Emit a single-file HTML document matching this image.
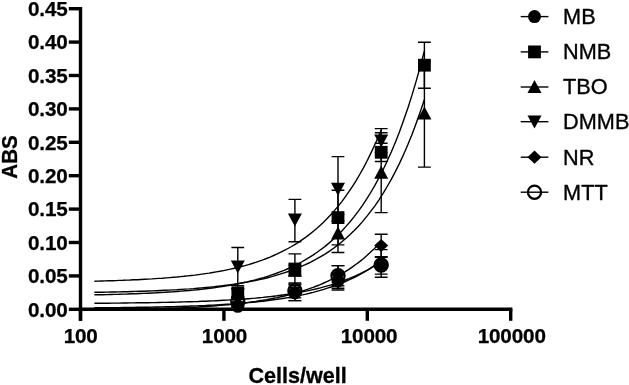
<!DOCTYPE html>
<html><head><meta charset="utf-8"><title>Chart</title>
<style>
html,body{margin:0;padding:0;background:#fff}
svg{display:block}
text{font-family:"Liberation Sans",sans-serif;fill:#000}
.tk{font-size:20.7px;font-weight:bold;stroke:#000;stroke-width:0.25px;letter-spacing:-0.15px}
.ax{font-size:21.6px;font-weight:bold;stroke:#000;stroke-width:0.3px}
.lg{font-size:21.7px;stroke:#000;stroke-width:0.35px}
</style></head><body>
<svg width="629" height="385" viewBox="0 0 629 385">
<rect width="629" height="385" fill="#fff"/>
<path d="M80.5 7V320.8M78.8 309.3H512.4" stroke="#000" stroke-width="3.4" fill="none"/>
<path d="M68.8 309.3H80.5" stroke="#000" stroke-width="3.4"/>
<text x="67.7" y="316.5" text-anchor="end" class="tk">0.00</text>
<path d="M68.8 275.9H80.5" stroke="#000" stroke-width="3.4"/>
<text x="67.7" y="283.1" text-anchor="end" class="tk">0.05</text>
<path d="M68.8 242.5H80.5" stroke="#000" stroke-width="3.4"/>
<text x="67.7" y="249.7" text-anchor="end" class="tk">0.10</text>
<path d="M68.8 209.1H80.5" stroke="#000" stroke-width="3.4"/>
<text x="67.7" y="216.3" text-anchor="end" class="tk">0.15</text>
<path d="M68.8 175.7H80.5" stroke="#000" stroke-width="3.4"/>
<text x="67.7" y="182.9" text-anchor="end" class="tk">0.20</text>
<path d="M68.8 142.3H80.5" stroke="#000" stroke-width="3.4"/>
<text x="67.7" y="149.5" text-anchor="end" class="tk">0.25</text>
<path d="M68.8 108.9H80.5" stroke="#000" stroke-width="3.4"/>
<text x="67.7" y="116.1" text-anchor="end" class="tk">0.30</text>
<path d="M68.8 75.5H80.5" stroke="#000" stroke-width="3.4"/>
<text x="67.7" y="82.7" text-anchor="end" class="tk">0.35</text>
<path d="M68.8 42.1H80.5" stroke="#000" stroke-width="3.4"/>
<text x="67.7" y="49.3" text-anchor="end" class="tk">0.40</text>
<path d="M68.8 8.7H80.5" stroke="#000" stroke-width="3.4"/>
<text x="67.7" y="15.9" text-anchor="end" class="tk">0.45</text>
<path d="M80.5 309.3V320.8" stroke="#000" stroke-width="3.4"/>
<text x="80.7" y="342.6" text-anchor="middle" class="tk">100</text>
<path d="M223.9 309.3V320.8" stroke="#000" stroke-width="3.4"/>
<text x="224.5" y="342.6" text-anchor="middle" class="tk">1000</text>
<path d="M367.3 309.3V320.8" stroke="#000" stroke-width="3.4"/>
<text x="369.1" y="342.6" text-anchor="middle" class="tk">10000</text>
<path d="M510.7 309.3V320.8" stroke="#000" stroke-width="3.4"/>
<text x="511.7" y="342.6" text-anchor="middle" class="tk">100000</text>
<text x="297.6" y="383" text-anchor="middle" class="ax">Cells/well</text>
<text transform="translate(17 157) rotate(-90)" text-anchor="middle" textLength="43.5" lengthAdjust="spacingAndGlyphs" class="ax">ABS</text>
<polyline points="94.4,307.8 98.0,307.8 101.6,307.8 105.2,307.7 108.7,307.7 112.3,307.7 115.9,307.6 119.5,307.6 123.1,307.5 126.7,307.5 130.2,307.5 133.8,307.4 137.4,307.3 141.0,307.3 144.6,307.2 148.2,307.2 151.8,307.1 155.3,307.0 158.9,307.0 162.5,306.9 166.1,306.8 169.7,306.7 173.3,306.6 176.9,306.5 180.4,306.4 184.0,306.3 187.6,306.2 191.2,306.0 194.8,305.9 198.4,305.8 201.9,305.6 205.5,305.5 209.1,305.3 212.7,305.1 216.3,304.9 219.9,304.7 223.5,304.5 227.0,304.3 230.6,304.1 234.2,303.8 237.8,303.5 241.4,303.3 245.0,303.0 248.6,302.6 252.1,302.3 255.7,302.0 259.3,301.6 262.9,301.2 266.5,300.8 270.1,300.3 273.6,299.8 277.2,299.3 280.8,298.8 284.4,298.2 288.0,297.6 291.6,297.0 295.2,296.3 298.7,295.6 302.3,294.9 305.9,294.1 309.5,293.2 313.1,292.4 316.7,291.4 320.3,290.4 323.8,289.4 327.4,288.2 331.0,287.0 334.6,285.8 338.2,284.4 341.8,283.0 345.3,281.5 348.9,279.9 352.5,278.3 356.1,276.5 359.7,274.6 363.3,272.6 366.9,270.5 370.4,268.3 374.0,265.9 377.6,263.4 381.2,260.7" fill="none" stroke="#000" stroke-width="1.4"/>
<polyline points="94.4,294.8 98.5,294.8 102.6,294.7 106.8,294.6 110.9,294.5 115.0,294.4 119.1,294.3 123.3,294.1 127.4,294.0 131.5,293.8 135.6,293.7 139.8,293.5 143.9,293.4 148.0,293.2 152.1,293.0 156.3,292.8 160.4,292.5 164.5,292.3 168.6,292.0 172.8,291.8 176.9,291.5 181.0,291.1 185.1,290.8 189.3,290.5 193.4,290.1 197.5,289.7 201.6,289.2 205.8,288.7 209.9,288.2 214.0,287.7 218.1,287.1 222.3,286.5 226.4,285.9 230.5,285.2 234.6,284.4 238.8,283.6 242.9,282.8 247.0,281.9 251.1,280.9 255.3,279.9 259.4,278.7 263.5,277.6 267.6,276.3 271.8,274.9 275.9,273.5 280.0,271.9 284.1,270.3 288.3,268.5 292.4,266.6 296.5,264.6 300.6,262.5 304.8,260.2 308.9,257.7 313.0,255.1 317.1,252.3 321.2,249.3 325.4,246.1 329.5,242.6 333.6,239.0 337.7,235.1 341.9,230.9 346.0,226.4 350.1,221.7 354.2,216.6 358.4,211.1 362.5,205.3 366.6,199.1 370.7,192.5 374.9,185.4 379.0,177.8 383.1,169.7 387.2,161.0 391.4,151.8 395.5,141.9 399.6,131.4 403.7,120.1 407.9,108.0 412.0,95.1 416.1,81.4 420.2,66.7 424.4,51.0" fill="none" stroke="#000" stroke-width="1.4"/>
<polyline points="94.4,292.3 98.5,292.3 102.6,292.2 106.8,292.1 110.9,292.0 115.0,292.0 119.1,291.9 123.3,291.8 127.4,291.7 131.5,291.5 135.6,291.4 139.8,291.3 143.9,291.2 148.0,291.0 152.1,290.9 156.3,290.7 160.4,290.5 164.5,290.3 168.6,290.1 172.8,289.9 176.9,289.7 181.0,289.4 185.1,289.1 189.3,288.9 193.4,288.6 197.5,288.2 201.6,287.9 205.8,287.5 209.9,287.1 214.0,286.7 218.1,286.2 222.3,285.8 226.4,285.2 230.5,284.7 234.6,284.1 238.8,283.5 242.9,282.8 247.0,282.1 251.1,281.3 255.3,280.5 259.4,279.6 263.5,278.7 267.6,277.7 271.8,276.6 275.9,275.4 280.0,274.2 284.1,272.9 288.3,271.5 292.4,270.0 296.5,268.4 300.6,266.7 304.8,264.9 308.9,263.0 313.0,260.9 317.1,258.7 321.2,256.3 325.4,253.8 329.5,251.1 333.6,248.2 337.7,245.1 341.9,241.8 346.0,238.3 350.1,234.5 354.2,230.5 358.4,226.2 362.5,221.6 366.6,216.6 370.7,211.4 374.9,205.8 379.0,199.8 383.1,193.4 387.2,186.5 391.4,179.2 395.5,171.4 399.6,163.1 403.7,154.2 407.9,144.6 412.0,134.5 416.1,123.6 420.2,112.0 424.4,99.5" fill="none" stroke="#000" stroke-width="1.4"/>
<polyline points="94.4,281.2 98.0,281.1 101.6,281.0 105.2,280.9 108.7,280.8 112.3,280.7 115.9,280.6 119.5,280.4 123.1,280.3 126.7,280.1 130.2,280.0 133.8,279.8 137.4,279.7 141.0,279.5 144.6,279.3 148.2,279.1 151.8,278.9 155.3,278.6 158.9,278.4 162.5,278.2 166.1,277.9 169.7,277.6 173.3,277.3 176.9,277.0 180.4,276.6 184.0,276.3 187.6,275.9 191.2,275.5 194.8,275.1 198.4,274.6 201.9,274.1 205.5,273.6 209.1,273.1 212.7,272.5 216.3,271.9 219.9,271.3 223.5,270.6 227.0,269.9 230.6,269.1 234.2,268.3 237.8,267.4 241.4,266.5 245.0,265.6 248.6,264.6 252.1,263.5 255.7,262.3 259.3,261.1 262.9,259.9 266.5,258.5 270.1,257.1 273.6,255.5 277.2,253.9 280.8,252.2 284.4,250.4 288.0,248.5 291.6,246.5 295.2,244.3 298.7,242.1 302.3,239.6 305.9,237.1 309.5,234.4 313.1,231.5 316.7,228.5 320.3,225.3 323.8,221.9 327.4,218.3 331.0,214.5 334.6,210.4 338.2,206.1 341.8,201.6 345.3,196.8 348.9,191.7 352.5,186.3 356.1,180.6 359.7,174.5 363.3,168.1 366.9,161.3 370.4,154.1 374.0,146.5 377.6,138.5 381.2,129.9" fill="none" stroke="#000" stroke-width="1.4"/>
<polyline points="94.4,309.9 98.0,309.9 101.6,309.9 105.2,309.8 108.7,309.8 112.3,309.7 115.9,309.7 119.5,309.6 123.1,309.5 126.7,309.5 130.2,309.4 133.8,309.3 137.4,309.3 141.0,309.2 144.6,309.1 148.2,309.0 151.8,308.9 155.3,308.8 158.9,308.7 162.5,308.6 166.1,308.4 169.7,308.3 173.3,308.2 176.9,308.0 180.4,307.9 184.0,307.7 187.6,307.5 191.2,307.4 194.8,307.2 198.4,307.0 201.9,306.7 205.5,306.5 209.1,306.3 212.7,306.0 216.3,305.7 219.9,305.4 223.5,305.1 227.0,304.8 230.6,304.5 234.2,304.1 237.8,303.7 241.4,303.3 245.0,302.9 248.6,302.4 252.1,301.9 255.7,301.4 259.3,300.8 262.9,300.3 266.5,299.7 270.1,299.0 273.6,298.3 277.2,297.6 280.8,296.8 284.4,296.0 288.0,295.1 291.6,294.2 295.2,293.2 298.7,292.2 302.3,291.1 305.9,289.9 309.5,288.7 313.1,287.4 316.7,286.0 320.3,284.6 323.8,283.0 327.4,281.4 331.0,279.7 334.6,277.8 338.2,275.9 341.8,273.8 345.3,271.7 348.9,269.4 352.5,266.9 356.1,264.3 359.7,261.6 363.3,258.7 366.9,255.6 370.4,252.3 374.0,248.9 377.6,245.2 381.2,241.3" fill="none" stroke="#000" stroke-width="1.4"/>
<polyline points="94.4,303.3 98.0,303.2 101.6,303.2 105.2,303.2 108.7,303.2 112.3,303.1 115.9,303.1 119.5,303.1 123.1,303.0 126.7,303.0 130.2,302.9 133.8,302.9 137.4,302.8 141.0,302.8 144.6,302.7 148.2,302.7 151.8,302.6 155.3,302.6 158.9,302.5 162.5,302.4 166.1,302.4 169.7,302.3 173.3,302.2 176.9,302.1 180.4,302.0 184.0,301.9 187.6,301.8 191.2,301.7 194.8,301.6 198.4,301.5 201.9,301.3 205.5,301.2 209.1,301.0 212.7,300.9 216.3,300.7 219.9,300.5 223.5,300.3 227.0,300.1 230.6,299.9 234.2,299.7 237.8,299.5 241.4,299.2 245.0,299.0 248.6,298.7 252.1,298.4 255.7,298.1 259.3,297.7 262.9,297.4 266.5,297.0 270.1,296.6 273.6,296.2 277.2,295.8 280.8,295.3 284.4,294.8 288.0,294.3 291.6,293.7 295.2,293.1 298.7,292.5 302.3,291.8 305.9,291.1 309.5,290.4 313.1,289.6 316.7,288.8 320.3,287.9 323.8,286.9 327.4,285.9 331.0,284.9 334.6,283.8 338.2,282.6 341.8,281.3 345.3,280.0 348.9,278.6 352.5,277.1 356.1,275.6 359.7,273.9 363.3,272.1 366.9,270.3 370.4,268.3 374.0,266.2 377.6,264.0 381.2,261.6" fill="none" stroke="#000" stroke-width="1.4"/>
<path d="M237.8 304.3V308.3M231.4 304.3h12.8M231.4 308.3h12.8" stroke="#000" stroke-width="1.4" fill="none"/>
<path d="M294.9 285.0V300.6M288.5 285.0h12.8M288.5 300.6h12.8" stroke="#000" stroke-width="1.4" fill="none"/>
<path d="M338.0 273.6V288.3M331.6 273.6h12.8M331.6 288.3h12.8" stroke="#000" stroke-width="1.4" fill="none"/>
<path d="M381.2 249.6V277.2M374.8 249.6h12.8M374.8 277.2h12.8" stroke="#000" stroke-width="1.4" fill="none"/>
<circle cx="237.8" cy="306.3" r="6.5" fill="#000"/>
<circle cx="294.9" cy="292.8" r="6.5" fill="#000"/>
<circle cx="338.0" cy="281.0" r="6.5" fill="#000"/>
<circle cx="381.2" cy="264.5" r="6.5" fill="#000"/>
<path d="M237.8 288.8V296.8M231.4 288.8h12.8M231.4 296.8h12.8" stroke="#000" stroke-width="1.4" fill="none"/>
<path d="M294.9 253.9V284.1M288.5 253.9h12.8M288.5 284.1h12.8" stroke="#000" stroke-width="1.4" fill="none"/>
<path d="M338.0 190.3V244.9M331.6 190.3h12.8M331.6 244.9h12.8" stroke="#000" stroke-width="1.4" fill="none"/>
<path d="M381.2 143.2V161.5M374.8 143.2h12.8M374.8 161.5h12.8" stroke="#000" stroke-width="1.4" fill="none"/>
<path d="M424.4 42.2V88.3M418.0 42.2h12.8M418.0 88.3h12.8" stroke="#000" stroke-width="1.4" fill="none"/>
<rect x="231.4" y="286.4" width="12.8" height="12.8" fill="#000"/>
<rect x="288.5" y="262.6" width="12.8" height="12.8" fill="#000"/>
<rect x="331.6" y="211.2" width="12.8" height="12.8" fill="#000"/>
<rect x="374.8" y="145.9" width="12.8" height="12.8" fill="#000"/>
<rect x="418.0" y="58.8" width="12.8" height="12.8" fill="#000"/>
<path d="M237.8 288.6V296.6M231.4 288.6h12.8M231.4 296.6h12.8" stroke="#000" stroke-width="1.4" fill="none"/>
<path d="M294.9 265.4V275.7M288.5 265.4h12.8M288.5 275.7h12.8" stroke="#000" stroke-width="1.4" fill="none"/>
<path d="M338.0 214.4V252.5M331.6 214.4h12.8M331.6 252.5h12.8" stroke="#000" stroke-width="1.4" fill="none"/>
<path d="M381.2 132.8V212.6M374.8 132.8h12.8M374.8 212.6h12.8" stroke="#000" stroke-width="1.4" fill="none"/>
<path d="M424.4 60.8V167.1M418.0 60.8h12.8M418.0 167.1h12.8" stroke="#000" stroke-width="1.4" fill="none"/>
<path d="M237.8 285.7L244.8 298.7H230.8Z" fill="#000"/>
<path d="M294.9 263.7L301.9 276.7H287.9Z" fill="#000"/>
<path d="M338.0 226.6L345.0 239.6H331.0Z" fill="#000"/>
<path d="M381.2 165.8L388.2 178.8H374.2Z" fill="#000"/>
<path d="M424.4 106.4L431.4 119.4H417.4Z" fill="#000"/>
<path d="M237.8 247.5V285.6M231.4 247.5h12.8M231.4 285.6h12.8" stroke="#000" stroke-width="1.4" fill="none"/>
<path d="M294.9 199.4V241.8M288.5 199.4h12.8M288.5 241.8h12.8" stroke="#000" stroke-width="1.4" fill="none"/>
<path d="M338.0 156.6V221.0M331.6 156.6h12.8M331.6 221.0h12.8" stroke="#000" stroke-width="1.4" fill="none"/>
<path d="M381.2 128.6V152.8M374.8 128.6h12.8M374.8 152.8h12.8" stroke="#000" stroke-width="1.4" fill="none"/>
<path d="M237.8 273.4L244.8 260.4H230.8Z" fill="#000"/>
<path d="M294.9 226.6L301.9 213.6H287.9Z" fill="#000"/>
<path d="M338.0 195.7L345.0 182.7H331.0Z" fill="#000"/>
<path d="M381.2 147.6L388.2 134.6H374.2Z" fill="#000"/>
<path d="M237.8 302.0V306.0M231.4 302.0h12.8M231.4 306.0h12.8" stroke="#000" stroke-width="1.4" fill="none"/>
<path d="M294.9 287.3V297.9M288.5 287.3h12.8M288.5 297.9h12.8" stroke="#000" stroke-width="1.4" fill="none"/>
<path d="M338.0 265.6V290.0M331.6 265.6h12.8M331.6 290.0h12.8" stroke="#000" stroke-width="1.4" fill="none"/>
<path d="M381.2 234.3V256.7M374.8 234.3h12.8M374.8 256.7h12.8" stroke="#000" stroke-width="1.4" fill="none"/>
<path d="M237.8 297.4L244.8 304.0L237.8 310.6L230.8 304.0Z" fill="#000"/>
<path d="M294.9 286.0L301.9 292.6L294.9 299.2L287.9 292.6Z" fill="#000"/>
<path d="M338.0 268.0L345.0 274.6L338.0 281.2L331.0 274.6Z" fill="#000"/>
<path d="M381.2 238.9L388.2 245.5L381.2 252.1L374.2 245.5Z" fill="#000"/>
<path d="M237.8 299.5V303.5M231.4 299.5h12.8M231.4 303.5h12.8" stroke="#000" stroke-width="1.4" fill="none"/>
<path d="M294.9 283.0V300.6M288.5 283.0h12.8M288.5 300.6h12.8" stroke="#000" stroke-width="1.4" fill="none"/>
<path d="M338.0 265.6V285.8M331.6 265.6h12.8M331.6 285.8h12.8" stroke="#000" stroke-width="1.4" fill="none"/>
<path d="M381.2 257.2V274.1M374.8 257.2h12.8M374.8 274.1h12.8" stroke="#000" stroke-width="1.4" fill="none"/>
<circle cx="237.8" cy="301.5" r="6.6" fill="none" stroke="#000" stroke-width="2.2"/>
<circle cx="294.9" cy="291.0" r="6.6" fill="none" stroke="#000" stroke-width="2.2"/>
<circle cx="338.0" cy="275.7" r="6.6" fill="none" stroke="#000" stroke-width="2.2"/>
<circle cx="381.2" cy="265.0" r="6.6" fill="none" stroke="#000" stroke-width="2.2"/>
<path d="M520.7 16.6H548.4" stroke="#000" stroke-width="1.4"/>
<circle cx="534.5" cy="16.6" r="6.5" fill="#000"/>
<text x="563.1" y="24.0" class="lg">MB</text>
<path d="M520.7 51.9H548.4" stroke="#000" stroke-width="1.4"/>
<rect x="528.1" y="45.5" width="12.8" height="12.8" fill="#000"/>
<text x="563.1" y="59.3" class="lg">NMB</text>
<path d="M520.7 87H548.4" stroke="#000" stroke-width="1.4"/>
<path d="M534.5 80.1L541.5 93.1H527.5Z" fill="#000"/>
<text x="563.1" y="94.4" class="lg">TBO</text>
<path d="M520.7 121.7H548.4" stroke="#000" stroke-width="1.4"/>
<path d="M534.5 128.6L541.5 115.6H527.5Z" fill="#000"/>
<text x="563.1" y="129.1" class="lg">DMMB</text>
<path d="M520.7 157.2H548.4" stroke="#000" stroke-width="1.4"/>
<path d="M534.5 150.6L541.5 157.2L534.5 163.8L527.5 157.2Z" fill="#000"/>
<text x="563.1" y="164.6" class="lg">NR</text>
<path d="M520.7 192.2H548.4" stroke="#000" stroke-width="1.4"/>
<circle cx="534.5" cy="192.2" r="6.6" fill="none" stroke="#000" stroke-width="2.2"/>
<text x="563.1" y="199.6" class="lg">MTT</text>
</svg>
</body></html>
